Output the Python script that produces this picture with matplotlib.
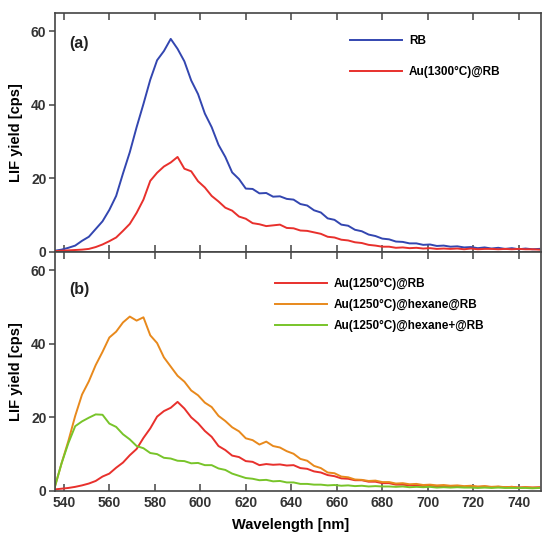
import matplotlib
matplotlib.use("Agg")
import matplotlib.pyplot as plt
import numpy as np

plt.rcParams['font.family'] = ['Liberation Sans', 'DejaVu Sans']
plt.rcParams['font.weight'] = 'bold'

# wavelength grid (nm)
wl = np.arange(536, 750, 3)

# (a) spectra
rb = [0.3, 0.6, 1.1, 1.7, 3.0, 4.1, 6.2, 8.3, 11.4, 15.2, 21.3, 27.1, 33.9, 40.2, 46.8, 52.1,
      54.6, 57.9, 55.2, 51.8, 46.6, 42.9, 37.6, 33.9, 29.1, 25.8, 21.6, 19.8, 17.2, 17.1, 15.9, 16.0,
      15.0, 15.1, 14.4, 14.2, 13.0, 12.6, 11.3, 10.7, 9.1, 8.7, 7.4, 7.1, 6.0, 5.6, 4.7, 4.3,
      3.6, 3.4, 2.8, 2.7, 2.3, 2.3, 1.9, 2.0, 1.6, 1.7, 1.4, 1.5, 1.2, 1.3, 1.0, 1.2,
      0.9, 1.1, 0.8, 1.0, 0.7, 0.9, 0.7, 0.8]
au1300 = [0.2, 0.3, 0.4, 0.5, 0.6, 0.8, 1.3, 2.0, 2.9, 3.9, 5.7, 7.6, 10.6, 14.2, 19.3, 21.5,
          23.2, 24.3, 25.8, 22.6, 21.9, 19.2, 17.5, 15.2, 13.7, 12.0, 11.2, 9.6, 9.0, 7.8, 7.5, 7.0,
          7.2, 7.4, 6.5, 6.4, 5.8, 5.7, 5.3, 4.9, 4.1, 3.9, 3.3, 3.1, 2.6, 2.4, 1.9, 1.7,
          1.4, 1.4, 1.1, 1.2, 1.0, 1.1, 0.9, 1.0, 0.8, 0.9, 0.8, 0.9, 0.7, 0.9, 0.7, 0.8,
          0.8, 0.7, 0.8, 0.7, 0.8, 0.7, 0.7, 0.6]

# (b) spectra
au1250 = [0.4, 0.6, 0.8, 1.1, 1.5, 2.0, 2.7, 3.9, 4.7, 6.3, 7.7, 9.7, 11.4, 14.4, 17.0, 20.2,
          21.7, 22.6, 24.2, 22.4, 20.0, 18.4, 16.3, 14.7, 12.2, 11.1, 9.6, 9.2, 8.1, 7.9, 7.0, 7.3,
          7.1, 7.2, 6.9, 7.0, 6.2, 6.0, 5.3, 5.0, 4.3, 4.0, 3.4, 3.3, 2.9, 2.9, 2.5, 2.5,
          2.1, 2.1, 1.7, 1.7, 1.5, 1.5, 1.3, 1.4, 1.2, 1.3, 1.1, 1.3, 1.1, 1.2, 1.0, 1.2,
          1.0, 1.1, 1.0, 1.1, 0.9, 1.0, 0.9, 1.0]
au1250_hex = [1.0, 7.5, 13.6, 20.4, 26.2, 29.8, 34.2, 37.8, 41.7, 43.3, 45.8, 47.4, 46.3, 47.2, 42.3, 40.2,
              36.3, 33.8, 31.3, 29.7, 27.3, 26.0, 24.0, 22.8, 20.4, 19.0, 17.3, 16.2, 14.3, 13.8, 12.6, 13.4,
              12.2, 11.8, 10.8, 10.1, 8.7, 8.2, 6.8, 6.2, 5.0, 4.8, 3.9, 3.7, 3.1, 3.0, 2.7, 2.8,
              2.4, 2.4, 2.0, 2.1, 1.8, 1.9, 1.6, 1.7, 1.5, 1.6, 1.4, 1.5, 1.3, 1.4, 1.2, 1.3,
              1.1, 1.2, 1.0, 1.1, 0.9, 1.0, 0.9, 0.9]
au1250_hexp = [1.0, 7.5, 13.0, 17.6, 18.9, 19.9, 20.8, 20.7, 18.3, 17.4, 15.4, 14.0, 12.2, 11.6, 10.3, 10.0,
               9.0, 8.8, 8.2, 8.1, 7.5, 7.6, 7.0, 7.0, 6.1, 5.7, 4.7, 4.1, 3.5, 3.3, 2.9, 3.0,
               2.6, 2.7, 2.3, 2.3, 1.9, 1.9, 1.7, 1.7, 1.5, 1.6, 1.4, 1.5, 1.3, 1.4, 1.2, 1.3,
               1.2, 1.2, 1.1, 1.2, 1.0, 1.1, 1.0, 1.1, 0.9, 1.0, 0.9, 1.0, 0.9, 0.9, 0.8, 0.9,
               0.8, 0.9, 0.8, 0.8, 0.8, 0.8, 0.7, 0.8]

blue = '#3346b0'
red = '#e8302c'
orange = '#e8891c'
green = '#78c42a'
grey = '#444444'

fig = plt.figure(figsize=(5.42, 5.33), dpi=100)
fig.subplots_adjust(left=0.101, right=0.999, top=0.976, bottom=0.079, hspace=0)
ax1 = fig.add_subplot(211)
ax2 = fig.add_subplot(212, sharex=ax1)

ax1.plot(wl, rb, color=blue, lw=1.4, label='RB')
ax1.plot(wl, au1300, color=red, lw=1.4, label='Au(1300°C)@RB')
ax2.plot(wl, au1250, color=red, lw=1.4, label='Au(1250°C)@RB')
ax2.plot(wl, au1250_hex, color=orange, lw=1.4, label='Au(1250°C)@hexane@RB')
ax2.plot(wl, au1250_hexp, color=green, lw=1.4, label='Au(1250°C)@hexane+@RB')

for ax in (ax1, ax2):
    ax.set_xlim(536, 750)
    ax.set_ylim(0, 65)
    ax.set_yticks([0, 20, 40, 60])
    ax.set_xticks(np.arange(540, 750, 20))
    ax.tick_params(axis='x', direction='in', top=True, length=5, width=1.1, color=grey,
                   labelsize=10, labelcolor='#333333')
    ax.tick_params(axis='y', direction='out', right=False, length=4, width=1.1, color=grey,
                   labelsize=10, labelcolor='#333333', pad=2)
    for s in ax.spines.values():
        s.set_color(grey)
        s.set_linewidth(1.2)
    ax.set_ylabel('LIF yield [cps]', fontsize=10.5, fontweight='bold')
    ax.yaxis.set_label_coords(-0.065, 0.5)

plt.setp(ax1.get_xticklabels(), visible=False)
ax2.set_xlabel('Wavelength [nm]', fontsize=10.5, fontweight='bold')
ax2.xaxis.set_label_coords(0.485, -0.115)

ax1.text(0.03, 0.905, '(a)', transform=ax1.transAxes, fontsize=11.5, fontweight='bold',
         va='top', ha='left', color='#222222')
ax2.text(0.03, 0.875, '(b)', transform=ax2.transAxes, fontsize=11.5, fontweight='bold',
         va='top', ha='left', color='#222222')

ax1.legend(loc='upper left', bbox_to_anchor=(0.585, 0.95), frameon=False, fontsize=8.5,
           handlelength=4.4, labelspacing=1.6, handletextpad=0.6)
ax2.legend(loc='upper left', bbox_to_anchor=(0.43, 0.935), frameon=False, fontsize=8.5,
           handlelength=4.4, labelspacing=0.75, handletextpad=0.6)

plt.savefig('out.png', dpi=100)
